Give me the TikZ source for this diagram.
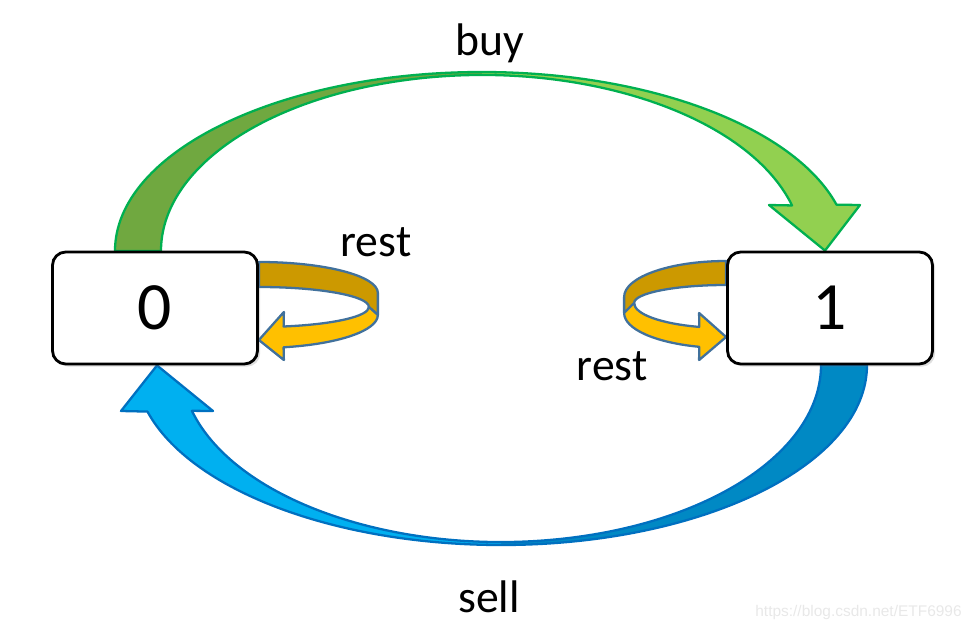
\documentclass[tikz,border=0pt]{standalone}
\usepackage{fontspec}
\setmainfont{Carlito}
\newfontfamily\markfont{Liberation Sans}
\usepackage{tikz}
\usetikzlibrary{calc,shadows,backgrounds}
\definecolor{buydark}{HTML}{70A840}
\definecolor{buylight}{HTML}{92D050}
\definecolor{buyline}{HTML}{00B050}
\definecolor{selldark}{HTML}{0089C4}
\definecolor{selllight}{HTML}{00B0F0}
\definecolor{sellline}{HTML}{0070C0}
\definecolor{restdark}{HTML}{CC9900}
\definecolor{restlight}{HTML}{FFC000}
\definecolor{restline}{HTML}{41719C}
\tikzset{
  statebox/.style={draw=black, line width=1.6pt, fill=white, rounded corners=7.5pt,
    minimum width=4.1cm, minimum height=2.24cm, font=\fontsize{38.5}{40}\selectfont,
    drop shadow={shadow xshift=1.5pt, shadow yshift=-1.5pt, opacity=0.25}},
  edgetext/.style={font=\fontsize{26}{28}\selectfont, inner sep=0pt},
  bandedge/.style={line width=1.3pt, line join=round},
}

\begin{document}
\begin{tikzpicture}[x=0.02cm,y=-0.02cm]
\useasboundingbox (0,0) rectangle (974,629);

\node[statebox] (s0) at (155,308) {0};
\node[statebox] (s1) at (830,308) {1};

\begin{scope}[on background layer]
\coordinate (buyc) at (482,251);
\coordinate (sellc) at (501,365);
\fill[buydark] ($(buyc)+(-367,0)$) arc[start angle=180,end angle=270,x radius=367,y radius=179]
  -- ($(buyc)+(0,-176)$) arc[start angle=270,end angle=180,x radius=321,y radius=176] -- cycle;
\fill[buylight] ($(buyc)+(0,-179)$) arc[start angle=270,end angle=345,x radius=367,y radius=179]
  -- (860,205) -- ($(s1.north)+(-5,0)$) -- (769,205)
  -- ($(buyc)+(345:321 and 176)$) arc[start angle=345,end angle=270,x radius=321,y radius=176] -- cycle;
\draw[bandedge, buyline] ($(buyc)+(-367,0)$) arc[start angle=180,end angle=345,x radius=367,y radius=179]
  -- (860,205) -- ($(s1.north)+(-5,0)$) -- (769,205)
  -- ($(buyc)+(345:321 and 176)$) arc[start angle=345,end angle=180,x radius=321,y radius=176] -- cycle;

\fill[selldark] ($(sellc)+(366,0)$) arc[start angle=0,end angle=90,x radius=366,y radius=180]
  -- ($(sellc)+(0,177)$) arc[start angle=90,end angle=0,x radius=320,y radius=177] -- cycle;
\fill[selllight] ($(sellc)+(0,180)$) arc[start angle=90,end angle=165,x radius=366,y radius=180]
  -- (121,411) -- ($(s0.south)+(2,0)$) -- (213,411)
  -- ($(sellc)+(165:320 and 177)$) arc[start angle=165,end angle=90,x radius=320,y radius=177] -- cycle;
\draw[bandedge, sellline] ($(sellc)+(366,0)$) arc[start angle=0,end angle=165,x radius=366,y radius=180]
  -- (121,411) -- ($(s0.south)+(2,0)$) -- (213,411)
  -- ($(sellc)+(165:320 and 177)$) arc[start angle=165,end angle=0,x radius=320,y radius=177] -- cycle;

\begin{scope}[shift={(s0.east)}]
\filldraw[bandedge, draw=restline, fill=restdark] (0,-46) arc[start angle=270,end angle=360,x radius=119,y radius=31]
  -- (119,7) -- (110,-1) arc[start angle=360,end angle=270,x radius=110,y radius=20] -- cycle;
\filldraw[bandedge, draw=restline, fill=restlight] (119,7) -- (110,-1) arc[start angle=0,end angle=77,x radius=110,y radius=20]
  -- (25,4) -- (0,32) -- (25,52) -- (24.7,39.3) arc[start angle=78,end angle=0,x radius=119,y radius=33] -- cycle;
\end{scope}
\begin{scope}[shift={(s1.west)}]
\filldraw[bandedge, draw=restline, fill=restdark] (0,-47) arc[start angle=270,end angle=180,x radius=102,y radius=36]
  -- (-102,5) -- (-92,-5) arc[start angle=180,end angle=270,x radius=92,y radius=18] -- cycle;
\filldraw[bandedge, draw=restline, fill=restlight] (-102,5) -- (-92,-5) arc[start angle=180,end angle=107,x radius=92,y radius=25]
  -- (-27,5) -- (0,29) -- (-27,52) -- (-26.9,38.8) arc[start angle=105.3,end angle=180,x radius=102,y radius=35] -- cycle;
\end{scope}
\end{scope}

\node[edgetext, anchor=base] (lbuy) at (490,55) {buy};
\node[edgetext, anchor=base] (lsell) at (489,612) {sell};
\node[edgetext, anchor=base] (lrest0) at (376,256) {rest};
\node[edgetext, anchor=base] (lrest1) at (612,380) {rest};
\node[anchor=base east, inner sep=0pt, text=black!9, font=\markfont\fontsize{8.8}{10}\selectfont] (mark) at (962,616) {https://blog.csdn.net/ETF6996};
\end{tikzpicture}
\end{document}
